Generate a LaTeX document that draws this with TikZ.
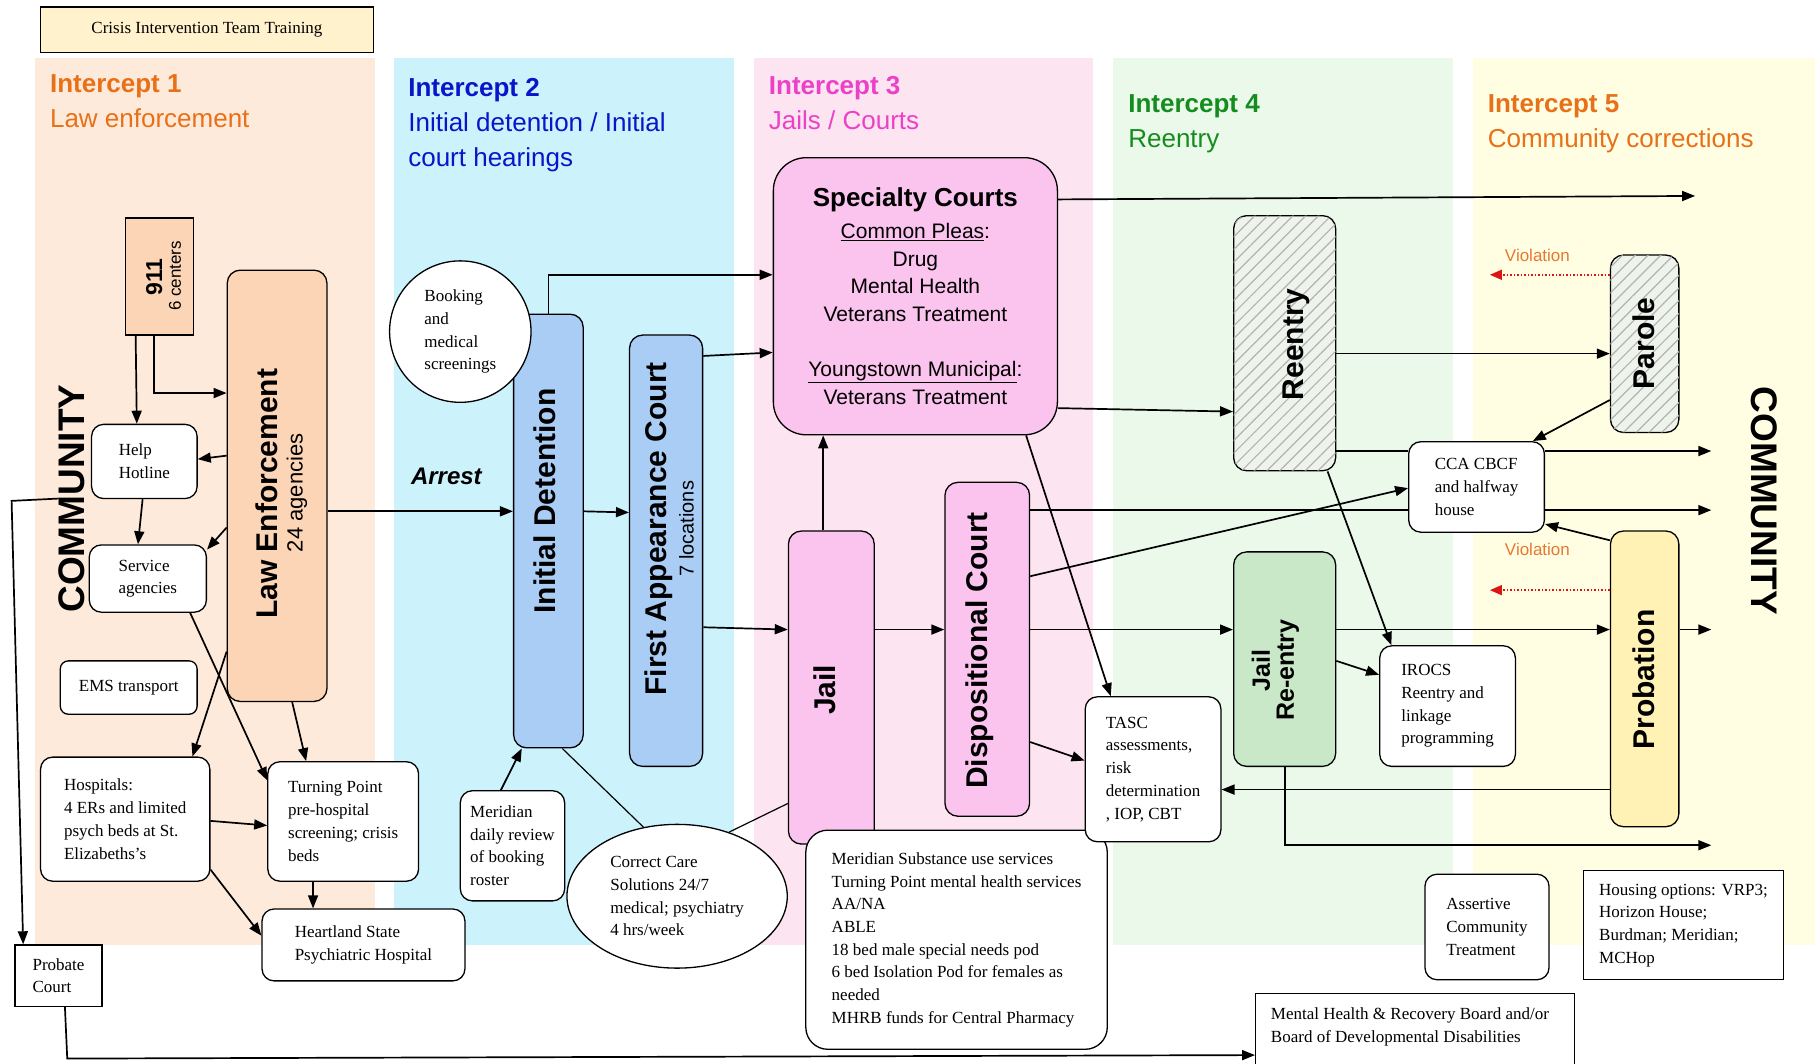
\documentclass[tikz,border=0pt]{standalone}
\usepackage{fontspec}
\setmainfont{Liberation Serif}
\newfontfamily\sansf{Liberation Sans}
\usetikzlibrary{arrows.meta,patterns.meta,shapes.geometric}
\newcommand\fs[2]{\fontsize{#1}{#2}\selectfont}
\definecolor{bandA}{RGB}{253,234,218}
\definecolor{bandB}{RGB}{204,242,252}
\definecolor{bandC}{RGB}{252,228,240}
\definecolor{bandD}{RGB}{234,249,234}
\definecolor{bandE}{RGB}{255,253,226}
\definecolor{lefill}{RGB}{251,213,181}
\definecolor{bluefill}{RGB}{170,205,245}
\definecolor{pinkfill}{RGB}{250,196,238}
\definecolor{greenfill}{RGB}{200,232,200}
\definecolor{yelfill}{RGB}{255,242,180}
\definecolor{hatchfill}{RGB}{238,244,236}
\definecolor{citfill}{RGB}{255,242,204}
\definecolor{tA}{RGB}{232,112,24}
\definecolor{tB}{RGB}{10,20,200}
\definecolor{tC}{RGB}{236,64,200}
\definecolor{tD}{RGB}{20,140,30}
\definecolor{vtext}{RGB}{230,120,50}
\definecolor{vred}{RGB}{220,20,20}
\begin{document}
\begin{tikzpicture}[x=1.1594pt,y=-1.1594pt,
  sz/.style 2 args={minimum width=1.1594pt*#1,minimum height=1.1594pt*#2},
  box/.style={draw,line width=1.3pt,rounded corners=12pt,fill=white,align=left,font=\fs{17}{22.7},inner sep=3pt},
  sbox/.style={box,sharp corners},
  stage/.style={draw,line width=1.3pt,rounded corners=13pt},
  rl/.style={rotate=90,font=\sansf\bfseries\fs{30}{33},inner sep=0pt,align=center},
  arr/.style={line width=1.7pt,-{Triangle[length=13pt,width=10pt]}},
  ln/.style={line width=1.2pt},
  viol/.style={draw=vred,line width=1.5pt,dotted,-{Triangle[length=12pt,width=10pt]}},
  ttl/.style={anchor=base west,align=left,inner sep=0pt,font=\sansf\fs{26}{35}},
  hatch/.style={fill=hatchfill,postaction={pattern={Lines[angle=45,distance=9pt,line width=1.2pt]},pattern color=black!30}}
]
\clip (0,0) rectangle (1568,917);
\fill[white] (0,0) rectangle (1568,917);
% bands
\fill[bandA] (30,50) rectangle (323,815);
\fill[bandB] (340,50) rectangle (633,815);
\fill[bandC] (650,50) rectangle (943,815);
\fill[bandD] (960,50) rectangle (1253,815);
\fill[bandE] (1270,50) rectangle (1565,815);
% titles (base = baseline of last line)
\node[ttl,text=tA] (i1) at (43,110) {{\bfseries Intercept 1}\\Law enforcement};
\node[ttl,text=tB] (i2) at (352,144) {{\bfseries Intercept 2}\\Initial detention / Initial\\court hearings};
\node[ttl,text=tC] (i3) at (663,112) {{\bfseries Intercept 3}\\Jails / Courts};
\node[ttl,text=tD] (i4) at (973,127) {{\bfseries Intercept 4}\\Reentry};
\node[ttl,text=tA] (i5) at (1283,127) {{\bfseries Intercept 5}\\Community corrections};
\node[sbox,fill=citfill,sz={287}{39},align=center] (cit) at (178.5,25.5) {Crisis Intervention Team Training};
% intercept 1
\node[draw,line width=1.3pt,fill=lefill,sz={59}{101}] (n911) at (137.5,238.5) {};
\node[rl,font=\sansf\bfseries\fs{23}{26}] (t911) at (133,239) {911};
\node[rl,font=\sansf\fs{17}{20}] (t6c) at (151,238) {6 centers};
\node[stage,fill=lefill,sz={86}{372}] (le) at (239,419) {};
\node[rl] (tle) at (230,426) {Law Enforcement};
\node[rl,font=\sansf\fs{22}{24}] (tle2) at (256,425) {24 agencies};
\node[rl,font=\sansf\bfseries\fs{37}{40}] (comL) at (62,430) {COMMUNITY};
\node[rotate=-90,inner sep=0pt,font=\sansf\bfseries\fs{37}{40}] (comR) at (1522,432) {COMMUNITY};
\node[box,sz={91}{64}] (hh) at (124.5,398) {Help\\Hotline};
\node[box,sz={101}{58}] (sa) at (127.5,499) {Service\\agencies};
\node[box,sz={118}{46},rounded corners=8pt] (ems) at (111,593) {EMS transport};
\node[box,sz={146}{107}] (hosp) at (108,706.5) {Hospitals:\\4 ERs and limited\\psych beds at St.\\Elizabeths’s};
\node[box,sz={130}{103}] (tp) at (296,708.5) {Turning Point\\pre-hospital\\screening; crisis\\beds};
\node[box,sz={175}{62}] (hsh) at (313.5,815) {Heartland State\\Psychiatric Hospital};
\node[sbox,sz={75}{53}] (prob) at (50.5,841.5) {Probate\\Court};
% intercept 2
\node[stage,fill=bluefill,sz={60}{374}] (id) at (473,458) {};
\node[rl] (tid) at (470,432) {Initial Detention};
\node[box,circle,minimum size=1.1594pt*122,inner sep=0pt] (book) at (397,286) {Booking\\and\\medical\\screenings};
\node[stage,fill=bluefill,sz={63}{372}] (fac) at (574.5,475) {};
\node[rl] (tfac) at (568,456) {First Appearance Court};
\node[rl,font=\sansf\fs{20}{22}] (tfac2) at (592,456) {7 locations};
\node[box,sz={90}{95}] (mer) at (442,729.5) {Meridian\\daily review\\of booking\\roster};
\node[box,ellipse,sz={190}{124},inner sep=0pt] (cc) at (584,773) {Correct Care\\Solutions 24/7\\medical; psychiatry\\4 hrs/week};
\node[font=\sansf\bfseries\itshape\fs{24}{28}] (arrest) at (385,411) {Arrest};
% intercept 3
\node[stage,fill=pinkfill,sz={245}{239},rounded corners=33pt,align=center,font=\sansf\fs{21}{27.6}] (sc) at (789.5,255.5)
  {{\bfseries\fs{26}{27.6}Specialty Courts}\\[4pt]\underline{Common Pleas}:\\Drug\\Mental Health\\Veterans Treatment\\[27.6pt]\underline{Youngstown Municipal}:\\Veterans Treatment};
\node[stage,fill=pinkfill,sz={74}{270}] (jail) at (717,593) {};
\node[rl] (tjail) at (711,595) {Jail};
\node[stage,fill=pinkfill,sz={73}{288}] (dc) at (851.5,560) {};
\node[rl] (tdc) at (845,561) {Dispositional Court};
\node[box,sz={260}{189},rounded corners=22pt] (subs) at (825,810.5) {Meridian Substance use services\\Turning Point mental health services\\AA/NA\\ABLE\\18 bed male special needs pod\\6 bed Isolation Pod for females as\\needed\\MHRB funds for Central Pharmacy};
\node[box,sz={117}{125}] (tasc) at (994.5,663.5) {TASC\\assessments,\\risk\\determination\\, IOP, CBT};
% intercept 4
\node[stage,hatch,sz={88}{220}] (re) at (1108,296) {};
\node[rl] (tre) at (1118,297) {Reentry};
\node[stage,fill=greenfill,sz={88}{185}] (jre) at (1108,568.5) {};
\node[rl,font=\sansf\bfseries\fs{25}{24}] (tjre) at (1100,578) {Jail\\Re-entry};
\node[box,sz={117}{104}] (irocs) at (1248.5,609) {IROCS\\Reentry and\\linkage\\programming};
\node[box,sz={117}{78}] (cca) at (1273.5,420) {CCA CBCF\\and halfway\\house};
% intercept 5
\node[stage,hatch,sz={59}{153}] (par) at (1418.5,296.5) {};
\node[rl] (tpar) at (1418,296) {Parole};
\node[stage,fill=yelfill,sz={59}{255}] (pro) at (1418.5,585.5) {};
\node[rl] (tpro) at (1418,586) {Probation};
\node[font=\sansf\fs{17}{20},text=vtext] (vl1) at (1326,220) {Violation};
\node[font=\sansf\fs{17}{20},text=vtext] (vl2) at (1326,474) {Violation};
\node[box,sz={107}{91}] (act) at (1282.5,799.5) {Assertive\\Community\\Treatment};
\node[sbox,sz={172}{94}] (hous) at (1452,798) {Housing options: VRP3;\\Horizon House;\\Burdman; Meridian;\\MCHop};
\node[sbox,sz={275}{73}] (mhrb) at (1220.5,893.5) {};
\node[anchor=north west,align=left,font=\fs{17}{22.7},inner sep=0pt] (mhrbt) at (1096,869) {Mental Health \& Recovery Board and/or\\Board of Developmental Disabilities};
% free ends
\coordinate (c1) at (1462,169);
\coordinate (c2) at (1476,389);
\coordinate (c3) at (1476,440);
\coordinate (c4) at (1476,543);
\coordinate (c5) at (1476,729);
\coordinate (v1) at (1285,237);
\coordinate (v2) at (1285,509);
\coordinate (cl) at (10,432);
\coordinate (cb) at (58,913);
% connectors intercept 1
\draw[arr] (n911.south -| 117,0) -- (hh.north -| 118,0);
\draw[arr] (n911.south -| 133,0) |- (le.west |- 0,339);
\draw[arr] (le.west |- 0,393) -- (hh.east |- 0,396);
\draw[arr] (hh.south -| 123,0) -- (sa.north -| 119,0);
\draw[arr] (le.west |- 0,455) -- (sa.east |- 0,474);
\draw[arr] (le.west |- 0,562) -- (hosp.north -| 166,0);
\draw[arr] (sa.south -| 164,0) -- (tp.west |- 0,673);
\draw[arr] (le.south -| 252,0) -- (tp.north -| 264,0);
\draw[arr] (hosp.east |- 0,708) -- (tp.west |- 0,712);
\draw[arr] (hosp.east |- 0,750) -- (hsh.west |- 0,807);
\draw[arr] (tp.south -| 270,0) -- (hsh.north -| 270,0);
\draw[arr] (comL.north) -- (cl) -- (prob.north -| 20,0);
\draw[arr] (prob.south -| 56,0) -- (cb) -- (mhrb.west |- 0,910);
\draw[arr] (le.east |- 0,441) -- (id.west |- 0,441);
% intercept 2
\draw[arr] (id.north -| 473,0) |- (sc.west |- 0,237);
\draw[arr] (fac.east |- 0,307) -- (sc.west |- 0,304);
\draw[arr] (id.east |- 0,441) -- (fac.west |- 0,442);
\draw[arr] (fac.east |- 0,541) -- (jail.west |- 0,543);
\draw[arr] (mer.north -| 432,0) -- (id.south -| 450,0);
\draw[ln] (id.south -| 485,0) -- (cc.116);
\draw[ln] (jail.west |- 0,693) -- (cc.51);
% intercept 3
\draw[arr] (jail.north -| 710,0) -- (sc.south -| 710,0);
\draw[arr] (jail.east |- 0,543) -- (dc.west |- 0,543);
\draw[arr] (sc.east |- 0,172) -- (c1);
\draw[arr] (sc.east |- 0,352) -- (re.west |- 0,355);
\draw[arr] (sc.south -| 885,0) -- (tasc.north -| 958,0);
\draw[ln,line width=1.7pt] (dc.east |- 0,440) -- (cca.west |- 0,440);
\draw[arr] (cca.east |- 0,440) -- (c3);
\draw[arr] (dc.east |- 0,497) -- (cca.west |- 0,421);
\draw[arr] (dc.east |- 0,543) -- (jre.west |- 0,543);
\draw[arr] (dc.east |- 0,640) -- (tasc.west |- 0,656);
% intercept 4
\draw[arr] (re.east |- 0,305) -- (par.west |- 0,305);
\draw[ln,line width=1.7pt] (re.east |- 0,389) -- (cca.west |- 0,389);
\draw[arr] (cca.east |- 0,389) -- (c2);
\draw[arr] (re.south -| 1145,0) -- (irocs.north -| 1200,0);
\draw[arr] (jre.east |- 0,543) -- (pro.west |- 0,543);
\draw[arr] (jre.east |- 0,570) -- (irocs.west |- 0,582);
\draw[arr] (jre.south -| 1108,0) |- (c5);
% intercept 5
\draw[arr] (pro.west |- 0,681) -- (tasc.east |- 0,681);
\draw[arr] (par.west |- 0,345) -- (cca.north -| 1322,0);
\draw[arr] (pro.west |- 0,466) -- (cca.east |- 0,452);
\draw[arr] (pro.east |- 0,543) -- (c4);
\draw[viol] (par.west |- 0,237) -- (v1);
\draw[viol] (pro.west |- 0,509) -- (v2);
\end{tikzpicture}
\end{document}
